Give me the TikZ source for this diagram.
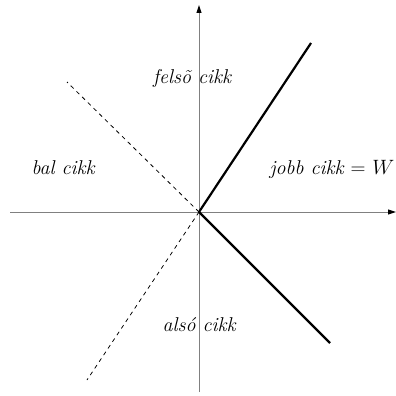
\documentclass[tikz,border=0pt]{standalone}
\usepackage{tikz}
\usetikzlibrary{arrows.meta,positioning}
\definecolor{axisgray}{HTML}{808080}

\begin{document}
\begin{tikzpicture}[x=1pt,y=-1pt,
    font=\fontsize{20}{24}\selectfont\itshape,
    axisline/.style={axisgray, line width=1pt, -{Triangle[length=8pt,width=5pt,fill=black,color=black]}},
    cutline/.style={black, line width=2.2pt},
    guideline/.style={black, line width=0.8pt, dash pattern=on 4pt off 4pt},
    sectorlabel/.style={inner sep=0pt, anchor=base}]

\useasboundingbox (0,0) rectangle (396,396);

% ---- Axes ----
\coordinate (O) at (199,212);
\coordinate (xstart) at (10,212);
\coordinate (xend) at (396,212);
\coordinate (ystart) at (199,392);
\coordinate (yend) at (199,5);
\draw[axisline] (xstart) -- (xend);
\draw[axisline] (ystart) -- (yend);

% ---- Cone W (thick) ----
\coordinate (wup) at (311,43);
\coordinate (wdown) at (330,343);
\draw[cutline] (O) -- (wup);
\draw[cutline] (O) -- (wdown);

% ---- Mirrored cone (dashed) ----
\coordinate (mup) at (67,82);
\coordinate (mdown) at (87,380);
\draw[guideline] (O) -- (mup);
\draw[guideline] (O) -- (mdown);

% ---- Labels ----
\node[sectorlabel] (upper) at (192,83) {felsõ cikk};
\node[sectorlabel] (left) at (63,174) {bal cikk};
\node[sectorlabel] (right) at (332,174) {jobb cikk $=$ $W$};
\node[sectorlabel] (lower) at (199,331) {alsó cikk};

\end{tikzpicture}
\end{document}
